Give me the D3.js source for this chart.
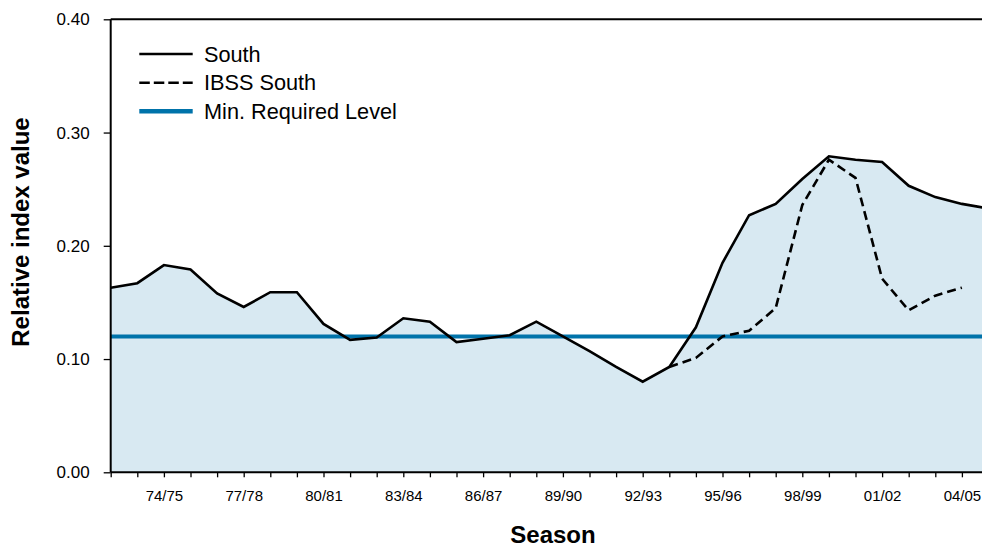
<!DOCTYPE html>
<html>
<head>
<meta charset="utf-8">
<script src="https://cdn.jsdelivr.net/npm/d3@7"></script>
<style>
  html, body { margin: 0; padding: 0; background: #fff; }
  svg { display: block; font-family: Arial, "Liberation Sans", sans-serif; }
</style>
</head>
<body>
<svg id="chart" width="982" height="548"></svg>
<script>
const seasons = ["72/73","73/74","74/75","75/76","76/77","77/78","78/79","79/80","80/81","81/82",
  "82/83","83/84","84/85","85/86","86/87","87/88","88/89","89/90","90/91","91/92","92/93","93/94",
  "94/95","95/96","96/97","97/98","98/99","99/00","00/01","01/02","02/03","03/04","04/05","05/06"];
const southValues = [0.163,0.167,0.183,0.179,0.158,0.146,0.159,0.159,0.131,0.117,0.119,0.136,0.133,
  0.115,0.118,0.121,0.133,0.120,0.107,0.093,0.080,0.093,0.128,0.185,0.227,0.237,0.259,0.279,0.276,
  0.274,0.253,0.243,0.237,0.233];
const ibssValues = [null,null,null,null,null,null,null,null,null,null,null,null,null,null,null,null,
  null,null,null,null,null,0.093,0.101,0.120,0.125,0.145,0.236,0.276,0.260,0.171,0.143,0.156,0.163,null];
const minRequiredLevel = 0.12;
const tickLabels = ["74/75","77/78","80/81","83/84","86/87","89/90","92/93","95/96","98/99","01/02","04/05"];
const yTicks = [0, 0.1, 0.2, 0.3, 0.4];
const seriesNames = ["South","IBSS South","Min. Required Level"];

const svg = d3.select("#chart");
const mLeft = 110.7, mTop = 19.3, mBottom = 472.3;
const step = 26.6;
const x = d3.scaleLinear().domain([0, seasons.length - 1]).range([mLeft, mLeft + step * (seasons.length - 1)]);
const xRight = mLeft + step * (seasons.length - 1) + 20;
const y = d3.scaleLinear().domain([0, 0.4]).range([mBottom, mTop]);

// area fill
const area = d3.area().x((d, i) => x(i)).y0(y(0)).y1(d => y(d));
svg.append("path").datum(southValues).attr("d", area).attr("fill", "#d8e9f2");

// min required level
svg.append("line").attr("x1", x(0)).attr("x2", xRight)
  .attr("y1", y(minRequiredLevel)).attr("y2", y(minRequiredLevel))
  .attr("stroke", "#0073aa").attr("stroke-width", 4);

// lines
const line = d3.line().defined(d => d != null).x((d, i) => x(i)).y(d => y(d));
svg.append("path").datum(southValues).attr("d", line).attr("fill", "none")
  .attr("stroke", "#000").attr("stroke-width", 2.6).attr("stroke-linejoin", "miter");
svg.append("path").datum(ibssValues).attr("d", line).attr("fill", "none")
  .attr("stroke", "#000").attr("stroke-width", 2.6).attr("stroke-dasharray", "9,5");

// top border
svg.append("line").attr("x1", mLeft).attr("x2", xRight).attr("y1", mTop).attr("y2", mTop)
  .attr("stroke", "#000").attr("stroke-width", 2);

// y axis
const yAxis = d3.axisLeft(y).tickValues(yTicks).tickFormat(d3.format(".2f")).tickSize(7).tickPadding(14);
const gy = svg.append("g").attr("transform", `translate(${mLeft},0)`).call(yAxis);
gy.select(".domain").attr("stroke-width", 2).attr("d", `M0,${mTop}V${mBottom}`);
gy.selectAll(".tick line").attr("stroke-width", 1.3);
gy.selectAll("text").attr("font-size", 17).attr("font-family", "Arial, 'Liberation Sans', sans-serif").attr("fill", "#000");

// x axis
const idx = d3.range(seasons.length);
const xAxis = d3.axisBottom(x).tickValues(idx).tickSize(5).tickPadding(13)
  .tickFormat(i => tickLabels.includes(seasons[i]) ? seasons[i] : "");
const gx = svg.append("g").attr("transform", `translate(0,${mBottom})`).call(xAxis);
gx.select(".domain").attr("stroke-width", 2).attr("d", `M${mLeft},0H${xRight}`);
gx.selectAll(".tick line").attr("stroke-width", 1.3);
gx.selectAll("text").attr("font-size", 15).attr("font-family", "Arial, 'Liberation Sans', sans-serif").attr("fill", "#000");

// axis titles
svg.append("text").attr("transform", "translate(29,232) rotate(-90)")
  .attr("text-anchor", "middle").attr("font-size", 24).attr("font-weight", "bold").text("Relative index value");
svg.append("text").attr("x", 553).attr("y", 543)
  .attr("text-anchor", "middle").attr("font-size", 24).attr("font-weight", "bold").text("Season");

// legend
const legendY = [54, 82.7, 111.3];
const lg = svg.append("g");
seriesNames.forEach((name, k) => {
  const l = lg.append("line").attr("x1", 139.3).attr("x2", 192.7)
    .attr("y1", legendY[k]).attr("y2", legendY[k]);
  if (k === 2) l.attr("stroke", "#0073aa").attr("stroke-width", 4.5);
  else l.attr("stroke", "#000").attr("stroke-width", 2.6);
  if (k === 1) l.attr("stroke-dasharray", "10.5,4");
  lg.append("text").attr("x", 204).attr("y", legendY[k] + 7.5).attr("font-size", 21.7).text(name);
});
</script>
</body>
</html>
